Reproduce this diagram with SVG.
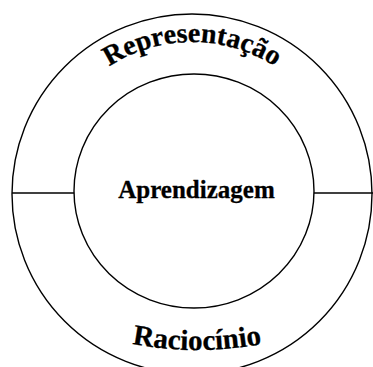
<svg xmlns="http://www.w3.org/2000/svg" width="373" height="367" viewBox="0 0 373 367">
<style>
.ln{fill:none;stroke:#000;stroke-width:1.4}
.t{font-family:"Liberation Serif","Times New Roman",serif;font-weight:bold;fill:#000;stroke:#000;stroke-width:0.3}
</style>
<defs>
<path id="arcTop" d="M 40 194 A 152 152 0 0 1 344 194"/>
<path id="arcBot" d="M 60 322.1 A 350 350 0 0 0 334 322.1"/>
</defs>
<rect width="373" height="367" fill="#fff"/>
<g id="connectors">
<line class="ln" x1="12" y1="193" x2="74" y2="193"/>
<line class="ln" x1="314" y1="193" x2="373" y2="193"/>
</g>
<g id="outer">
<circle class="ln" cx="192" cy="194" r="180"/>
</g>
<g id="representacao">
<text class="t" font-size="28"><textPath href="#arcTop" startOffset="50%" text-anchor="middle">Representação</textPath></text>
</g>
<g id="raciocinio">
<text class="t" font-size="29"><textPath href="#arcBot" startOffset="50%" text-anchor="middle">Raciocínio</textPath></text>
</g>
<g id="aprendizagem">
<ellipse class="ln" cx="194" cy="191" rx="120" ry="117"/>
<text class="t" x="196.5" y="198" font-size="25" text-anchor="middle">Aprendizagem</text>
</g>
</svg>
